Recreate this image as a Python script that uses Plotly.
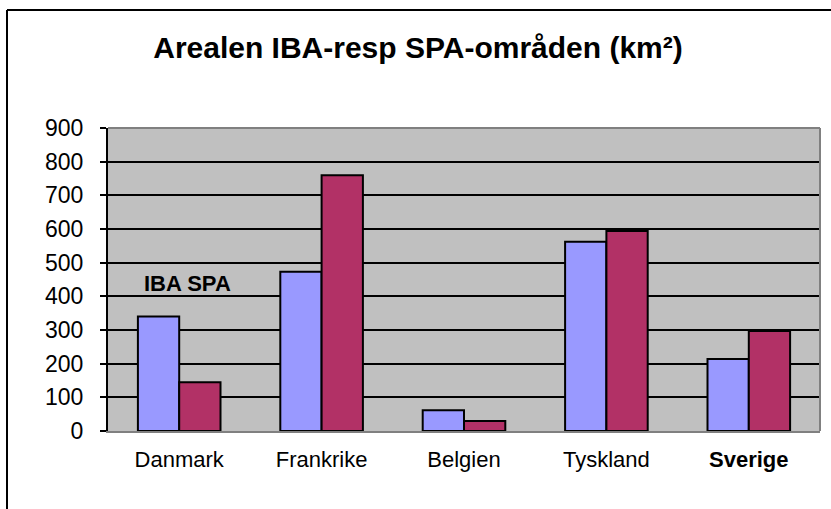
import plotly.graph_objects as go

categories = ["Danmark", "Frankrike", "Belgien", "Tyskland", "Sverige"]
tick_labels = ["Danmark", "Frankrike", "Belgien", "Tyskland", "<b>Sverige</b>"]
iba = [340, 473, 62, 562, 214]
spa = [145, 760, 30, 594, 297]
y_ticks = [0, 100, 200, 300, 400, 500, 600, 700, 800, 900]

W, H = 831, 509
L, R, T, B = 108, 11, 128, 78
pw, ph = W - L - R, H - T - B

fig = go.Figure()
fig.add_trace(go.Bar(x=categories, y=iba, name="IBA",
                     marker=dict(color="#9999FF", line=dict(color="black", width=2))))
fig.add_trace(go.Bar(x=categories, y=spa, name="SPA",
                     marker=dict(color="#B23166", line=dict(color="black", width=2))))

fig.update_layout(
    width=W, height=H,
    margin=dict(l=L, r=R, t=T, b=B),
    paper_bgcolor="white",
    plot_bgcolor="#C0C0C0",
    barmode="group",
    bargap=0.42,
    bargroupgap=0,
    showlegend=False,
    font=dict(family="Liberation Sans, Arial, sans-serif", color="black"),
    title=dict(text="<b>Arealen IBA-resp SPA-områden (km²)</b>",
               x=418 / W, xanchor="center", y=1 - 47 / H, yanchor="middle",
               font=dict(size=30, family="Liberation Sans, Arial, sans-serif")),
)
fig.update_yaxes(range=[0, 900], tickvals=y_ticks, showgrid=True, gridcolor="black", gridwidth=2,
                 showline=True, linecolor="black", linewidth=2, ticks="outside", ticklen=6,
                 tickcolor="black", tickwidth=2, tickfont=dict(size=23), zeroline=False,
                 ticklabelstandoff=12)
fig.update_xaxes(tickvals=categories, ticktext=tick_labels, showline=True, linecolor="#808080",
                 linewidth=2, ticks="", tickfont=dict(size=22), ticklabelstandoff=8)

# plot area top/right border (grey) and outer chart frame (left + top edges)
fig.add_shape(type="line", xref="paper", yref="paper", x0=0, x1=1, y0=1, y1=1,
              line=dict(color="#808080", width=2))
fig.add_shape(type="line", xref="paper", yref="paper", x0=1, x1=1, y0=0, y1=1,
              line=dict(color="#808080", width=2))
x_left = (7 - L) / pw
y_top = (H - B - 10) / ph
fig.add_shape(type="line", xref="paper", yref="paper", x0=x_left, x1=x_left, y0=-1, y1=y_top,
              line=dict(color="black", width=2))
fig.add_shape(type="line", xref="paper", yref="paper", x0=x_left, x1=2, y0=y_top, y1=y_top,
              line=dict(color="black", width=2))

fig.add_annotation(text="<b>IBA SPA</b>", xref="x", yref="y", x=0.06, y=437, showarrow=False,
                   font=dict(size=22), xanchor="center", yanchor="middle")

fig.write_html("out.html", config={"displayModeBar": False},
               post_script="document.body.style.margin='0';document.body.style.overflow='hidden';")
